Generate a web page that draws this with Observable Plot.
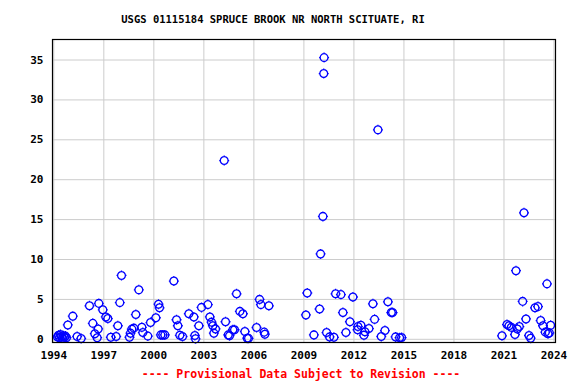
<!DOCTYPE html>
<html>
<head>
<meta charset="utf-8">
<script src="https://cdn.jsdelivr.net/npm/d3@7"></script>
<script src="https://cdn.jsdelivr.net/npm/@observablehq/plot@0.6"></script>
<style>
  html, body { margin: 0; padding: 0; background: #fff; }
  #wrap { position: relative; width: 576px; height: 384px; overflow: hidden; font-family: "DejaVu Sans Mono", monospace; font-weight: bold; }
  #title { position: absolute; top: 12px; left: 0; width: 546px; text-align: center; font-size: 10.5px; line-height: 14px; color: #000; }
  #chart { position: absolute; top: 30px; left: 0; }
  #caption { position: absolute; top: 367px; left: 0; width: 602px; text-align: center; font-size: 11.5px; line-height: 14px; color: #ff0000; }
  #ylabel { position: absolute; left: 12px; top: 194px; transform: translate(-50%, -50%) rotate(-90deg); white-space: nowrap; font-size: 12px; line-height: 14px; color: #000; }
</style>
</head>
<body>
<div id="wrap">
  <div id="title">USGS 01115184 SPRUCE BROOK NR NORTH SCITUATE, RI</div>
  <div id="ylabel">Streamflow, in cubic feet per second</div>
  <div id="chart"></div>
  <div id="caption">---- Provisional Data Subject to Revision ----</div>
</div>
<script>
const titleText = "USGS 01115184 SPRUCE BROOK NR NORTH SCITUATE, RI";
const yLabelText = "Streamflow, in cubic feet per second";
const captionText = "---- Provisional Data Subject to Revision ----";
const xTicks = [1994, 1997, 2000, 2003, 2006, 2009, 2012, 2015, 2018, 2021, 2024];
const yTicks = [0, 5, 10, 15, 20, 25, 30, 35];

// measurement dates (decimal years) and streamflow (cfs)
const years = [
  1994.22, 1994.28, 1994.34, 1994.40, 1994.46, 1994.52, 1994.58, 1994.64, 1994.70, 1994.76,
  1994.84, 1995.14, 1995.40, 1995.64, 1996.14, 1996.34, 1996.46, 1996.60, 1996.66, 1996.70,
  1996.94, 1997.12, 1997.24, 1997.42, 1997.74, 1997.84, 1997.96, 1998.06, 1998.54, 1998.60,
  1998.68, 1998.80, 1998.92, 1999.10, 1999.28, 1999.34, 1999.64, 1999.80, 2000.12, 2000.28,
  2000.34, 2000.42, 2000.54, 2000.66, 2001.20, 2001.36, 2001.44, 2001.56, 2001.72, 2002.10,
  2002.40, 2002.46, 2002.50, 2002.70, 2002.86, 2003.24, 2003.36, 2003.46, 2003.54, 2003.60,
  2003.70, 2004.22, 2004.30, 2004.46, 2004.54, 2004.74, 2004.84, 2004.96, 2005.16, 2005.34,
  2005.46, 2005.60, 2005.68, 2006.16, 2006.34, 2006.42, 2006.62, 2006.66, 2006.90,
  2009.12, 2009.20, 2009.60, 2009.94, 2010.00, 2010.14, 2010.19, 2010.21, 2010.36, 2010.54,
  2010.80, 2010.90, 2011.22, 2011.34, 2011.52, 2011.76, 2011.94, 2012.22, 2012.24, 2012.42,
  2012.60, 2012.66, 2012.90, 2013.14, 2013.24, 2013.44, 2013.64, 2013.86, 2014.04, 2014.24,
  2014.32, 2014.50, 2014.74, 2014.86,
  2020.88, 2021.18, 2021.30, 2021.44, 2021.66, 2021.72, 2021.80, 2021.92, 2022.12, 2022.20,
  2022.32, 2022.50, 2022.60, 2022.86, 2023.04, 2023.20, 2023.34, 2023.48, 2023.58, 2023.64,
  2023.72, 2023.80
];
const flows = [
  0.3, 0.5, 0.2, 0.6, 0.35, 0.15, 0.45, 0.25, 0.4, 0.2,
  1.8, 2.9, 0.35, 0.1, 4.2, 2.0, 0.7, 0.2, 1.3, 4.5,
  3.7, 2.8, 2.6, 0.26, 0.35, 1.7, 4.6, 8.0, 0.26, 0.77,
  1.27, 1.4, 3.1, 6.2, 1.5, 0.85, 0.4, 2.1, 2.7, 4.4,
  3.95, 0.55, 0.55, 0.55, 7.3, 2.45, 1.7, 0.5, 0.35, 3.2,
  2.8, 0.48, 0.06, 1.7, 4.0, 4.35, 2.8, 2.15, 1.7, 0.77,
  1.3, 22.4, 2.2, 0.55, 0.45, 1.2, 1.2, 5.7, 3.5, 3.2,
  0.98, 0.14, 0.12, 1.48, 5.0, 4.35, 0.9, 0.64, 4.2,
  3.05, 5.8, 0.55, 3.8, 10.7, 15.4, 33.3, 35.3, 0.85, 0.3,
  0.25, 5.7, 5.6, 3.35, 0.85, 2.2, 5.3, 1.2, 1.6, 1.75,
  0.5, 0.95, 1.35, 4.45, 2.5, 26.25, 0.35, 1.1, 4.7, 3.35,
  3.35, 0.3, 0.2, 0.22,
  0.44, 1.85, 1.7, 1.5, 0.6, 8.6, 1.3, 1.6, 4.75, 15.85,
  2.55, 0.48, 0.14, 3.95, 4.1, 2.35, 1.7, 0.9, 6.95, 0.7,
  0.8, 1.75
];

const data = years.map((t, i) => ({t, q: flows[i]}));

// open circle with four small ticks (USGS marker style)
const tickedCircle = {
  draw(ctx, size) {
    const r = Math.sqrt(size / Math.PI);
    ctx.moveTo(r, 0);
    ctx.arc(0, 0, r, 0, 2 * Math.PI);
    const a = r, b = r + 1.1;
    ctx.moveTo(0, -a); ctx.lineTo(0, -b);
    ctx.moveTo(0, a); ctx.lineTo(0, b);
    ctx.moveTo(-a, 0); ctx.lineTo(-b, 0);
    ctx.moveTo(a, 0); ctx.lineTo(b, 0);
  }
};

const chart = Plot.plot({
  width: 576,
  height: 340,
  marginTop: 9,
  marginBottom: 28,
  marginLeft: 52,
  marginRight: 21,
  style: {fontFamily: "DejaVu Sans Mono, monospace", fontWeight: "bold", fontSize: "11px", color: "#000", background: "#fff"},
  x: {domain: [1993.922, 2024.09], ticks: xTicks, tickFormat: d => String(d), label: null},
  y: {domain: [-0.4, 37.57], ticks: yTicks, label: null},
  marks: [
    Plot.gridX(xTicks, {stroke: "#cccccc", strokeOpacity: 1, strokeWidth: 1}),
    Plot.gridY(yTicks, {stroke: "#cccccc", strokeOpacity: 1, strokeWidth: 1}),
    Plot.axisX(xTicks, {tickSize: 0, tickPadding: 9, tickFormat: d => String(d), fontSize: 11, label: null}),
    Plot.axisY(yTicks, {tickSize: 0, tickPadding: 9, fontSize: 11, label: null}),
    Plot.dot(data, {x: "t", y: "q", r: 3.9, symbol: tickedCircle, stroke: "#0000ff", fill: "none", strokeWidth: 1.3}),
    Plot.frame({stroke: "#000", strokeWidth: 1.2})
  ]
});
document.getElementById("chart").appendChild(chart);
</script>
</body>
</html>
